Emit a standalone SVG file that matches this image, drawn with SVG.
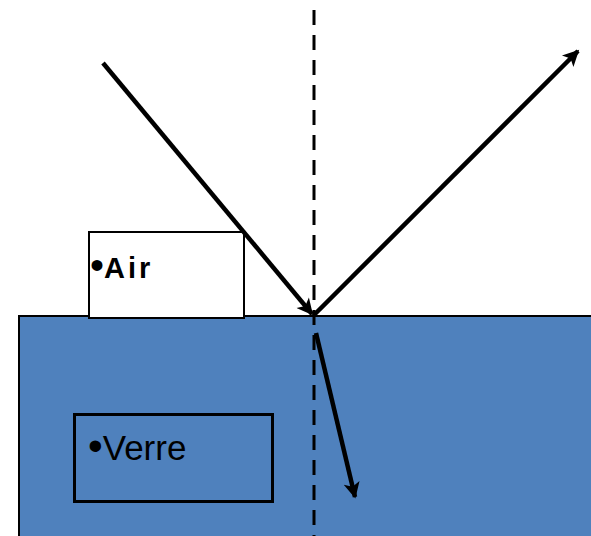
<svg xmlns="http://www.w3.org/2000/svg" width="591" height="536" viewBox="0 0 591 536">
<style>
.ray{stroke:#000;stroke-width:4.5;fill:none;marker-end:url(#ah)}
.lbl{font-family:"Liberation Sans",Arial,sans-serif;fill:#000}
</style>
<defs>
<marker id="ah" viewBox="0 0 10 10" refX="9" refY="5" markerWidth="4.6" markerHeight="3.6" orient="auto" markerUnits="strokeWidth">
<path d="M0,0 L10,5 L0,10 L2.5,5 Z" fill="#000"/>
</marker>
</defs>
<rect width="591" height="536" fill="#fff"/>
<g id="glass">
<rect x="19" y="316" width="580" height="230" fill="#4F81BD" stroke="#000" stroke-width="2"/>
</g>
<g id="air">
<rect x="89" y="232" width="155" height="86" fill="#fff" stroke="#000" stroke-width="2"/>
<text class="lbl" x="90" y="278" font-size="29" font-weight="bold" letter-spacing="3"><tspan font-size="40" font-weight="normal" letter-spacing="0" dy="1">•</tspan><tspan dy="-1">Air</tspan></text>
</g>
<g id="verre">
<rect x="74.5" y="414.5" width="198" height="87" fill="none" stroke="#000" stroke-width="3"/>
<text class="lbl" x="88" y="460" font-size="35"><tspan font-size="42">•</tspan>Verre</text>
</g>
<g id="connectors">
<line x1="314" y1="10" x2="314" y2="536" stroke="#000" stroke-width="3" stroke-dasharray="15,10"/>
<line class="ray" x1="103" y1="63" x2="312" y2="314"/>
<line class="ray" x1="314" y1="315" x2="578" y2="51"/>
<line class="ray" x1="316" y1="333" x2="355" y2="497"/>
</g>
</svg>
